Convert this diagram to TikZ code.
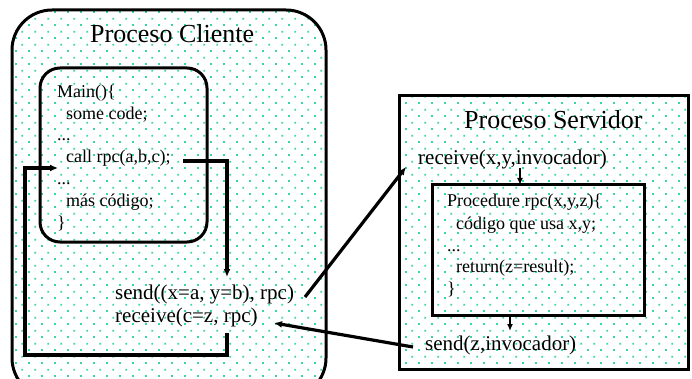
\documentclass[tikz,border=0pt]{standalone}
\usepackage{fontspec}
\setmainfont{Liberation Serif}
\usetikzlibrary{arrows.meta,patterns.meta}
\definecolor{dotcol}{RGB}{52,214,170}
\tikzdeclarepattern{
  name=tdots,
  type=uncolored,
  bottom left={(0pt,0pt)},
  top right={(12.6pt,12.6pt)},
  tile size={(12.6pt,12.6pt)},
  code={
    \pgfpathrectangle{\pgfpoint{2.25pt}{2.25pt}}{\pgfpoint{1.8pt}{1.8pt}}
    \pgfpathrectangle{\pgfpoint{8.55pt}{8.55pt}}{\pgfpoint{1.8pt}{1.8pt}}
    \pgfusepath{fill}
  }
}
\begin{document}
\begin{tikzpicture}[x=1pt,y=-1pt,
  bigtxt/.style={font=\fontsize{26}{30}\selectfont, inner sep=0pt, anchor=base west},
  midtxt/.style={font=\fontsize{21}{25}\selectfont, inner sep=0pt, anchor=base west},
  smalltxt/.style={font=\fontsize{18}{21}\selectfont, inner sep=0pt, anchor=base west},
  dotted bg/.style={pattern=tdots, pattern color=dotcol},
  frame/.style={line width=3pt, draw=black},
  thickarrow/.style={line width=3.2pt, line join=miter, -{Latex[length=8pt,width=7pt]}},
  thinarrow/.style={line width=1.4pt, -{Latex[length=7pt,width=6pt]}}
]
\useasboundingbox (0,0) rectangle (692,379);
\clip (0,0) rectangle (692,379);
\fill[white] (0,0) rectangle (692,379);

% client process
\path[dotted bg] (12,10) [rounded corners=40pt] rectangle (326,398);
\draw[frame, rounded corners=40pt] (12,10) rectangle (326,398);
\draw[frame, rounded corners=20pt] (40,68) rectangle (207,242);

% server process
\path[dotted bg] (399,96) rectangle (688,369);
\draw[frame] (399,96) rectangle (688,369);
\draw[frame] (432,185) rectangle (644,315);

% texts client
\node[bigtxt] (tcli) at (90,43) {Proceso Cliente};
\node[smalltxt] (m1) at (57,98) {Main()\{};
\node[smalltxt] (m2) at (66,119.5) {some code;};
\node[smalltxt] (m3) at (57,141) {...};
\node[smalltxt] (m4) at (66,163) {call rpc(a,b,c);};
\node[smalltxt] (m5) at (57,184.5) {...};
\node[smalltxt] (m6) at (66,206) {más código;};
\node[smalltxt] (m7) at (57,228) {\}};
\node[midtxt] (snd) at (115,299) {send((x=a, y=b), rpc)};
\node[midtxt] (rcv) at (115,322) {receive(c=z, rpc)};

% texts server
\node[bigtxt] (tsrv) at (464,129) {Proceso Servidor};
\node[midtxt] (srcv) at (418,165) {receive(x,y,invocador)};
\node[smalltxt] (p1) at (447,207) {Procedure rpc(x,y,z)\{};
\node[smalltxt] (p2) at (456,229) {código que usa x,y;};
\node[smalltxt] (p3) at (447,251) {...};
\node[smalltxt] (p4) at (456,272.5) {return(z=result);};
\node[smalltxt] (p5) at (447,294) {\}};
\node[midtxt] (ssnd) at (425,350) {send(z,invocador)};

% connector coordinates
\coordinate (callout) at (183,161);
\coordinate (callbend) at (227,161);
\coordinate (sendin) at (227,277);
\coordinate (rcvout) at (227,333);
\coordinate (loopa) at (227,355);
\coordinate (loopb) at (25,355);
\coordinate (loopc) at (25,168);
\coordinate (callin) at (58,168);
\coordinate (sndout) at (305,297);
\coordinate (srcvin) at (406,167);
\coordinate (ssndout) at (413,347);
\coordinate (rcvin) at (274,323);
\coordinate (srcvdown) at (520,168);
\coordinate (procin) at (520,185);
\coordinate (procout) at (510,315);
\coordinate (ssndin) at (510,331);

\draw[thickarrow] (callout) -- (callbend) -- (sendin);
\draw[thickarrow] (rcvout) -- (loopa) -- (loopb) -- (loopc) -- (callin);
\draw[thickarrow] (sndout) -- (srcvin);
\draw[thickarrow] (ssndout) -- (rcvin);
\draw[thinarrow] (srcvdown) -- (procin);
\draw[thinarrow] (procout) -- (ssndin);
\end{tikzpicture}
\end{document}
